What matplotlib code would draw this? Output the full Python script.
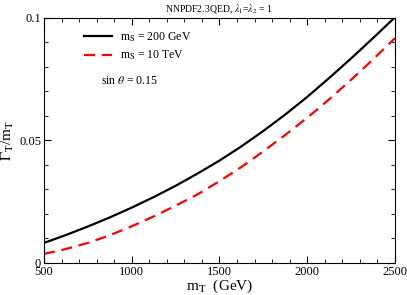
import matplotlib
matplotlib.use("Agg")
import matplotlib.pyplot as plt
from matplotlib.ticker import MultipleLocator, FuncFormatter

# values
m_t = [500, 625, 750, 875, 1000, 1125, 1250, 1375, 1500,
       1625, 1750, 1875, 2000, 2125, 2250, 2375, 2500]
width_ms200 = [0.0082, 0.0114, 0.0149, 0.0186, 0.0226, 0.0269, 0.0315, 0.0365, 0.0418,
               0.0476, 0.0539, 0.0606, 0.0678, 0.0755, 0.0835, 0.0918, 0.1003]
width_ms10tev = [0.0037, 0.0057, 0.0082, 0.0113, 0.0150, 0.0190, 0.0234, 0.0280, 0.0334,
                 0.0392, 0.0456, 0.0523, 0.0593, 0.0668, 0.0748, 0.0831, 0.0918]

plt.rcParams["font.family"] = ["Liberation Serif", "DejaVu Serif"]
plt.rcParams["mathtext.fontset"] = "stix"

fig = plt.figure(figsize=(4.07, 2.95), dpi=100)
ax = fig.add_axes([0.108, 0.1085, 0.8625, 0.8305])

ax.plot(m_t, width_ms200, color="black", lw=1.6, label=r"m$_\mathrm{S}$ = 200 GeV")
ax.plot(m_t, width_ms10tev, color="red", lw=1.6, ls=(0, (5, 3)), label=r"m$_\mathrm{S}$ = 10 TeV")

ax.set_xlim(500, 2500)
ax.set_ylim(0, 0.1)
ax.xaxis.set_major_locator(MultipleLocator(500))
ax.xaxis.set_minor_locator(MultipleLocator(100))
ax.yaxis.set_major_locator(MultipleLocator(0.05))
ax.yaxis.set_minor_locator(MultipleLocator(0.01))
ax.yaxis.set_major_formatter(FuncFormatter(lambda v, p: "0" if v == 0 else f"{v:g}"))
ax.tick_params(which="both", direction="in", top=True, right=True, labelsize=9, pad=2)
ax.tick_params(which="major", length=5)
ax.tick_params(which="minor", length=3)

ax.set_xlabel(r"m$_\mathrm{T}$  (GeV)", fontsize=11, labelpad=0)
ax.set_ylabel(r"$\Gamma_\mathrm{T}$/m$_\mathrm{T}$", fontsize=11, labelpad=2)
ax.set_title(r"NNPDF2.3QED, $\lambda_1$=$\lambda_2$ = 1", fontsize=7, pad=4)

ax.legend(loc="upper left", bbox_to_anchor=(0.1, 0.97), frameon=False, fontsize=8.5,
          handlelength=2.4, handletextpad=0.7, labelspacing=0.45, borderaxespad=0)
ax.text(0.163, 0.73, r"sin $\theta$ = 0.15", transform=ax.transAxes, fontsize=8.5)

fig.savefig("out.png", dpi=100)
